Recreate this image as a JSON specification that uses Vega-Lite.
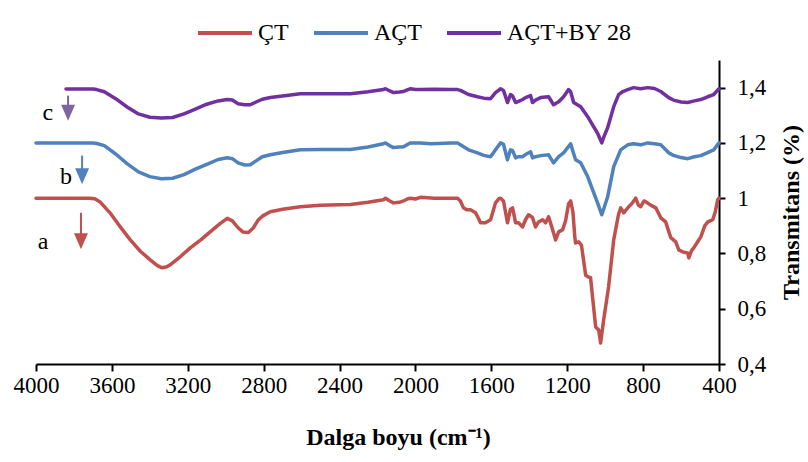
{
  "$schema": "https://vega.github.io/schema/vega-lite/v6.json",
  "width": 683,
  "height": 304,
  "autosize": {"type": "none"},
  "padding": {"left": 36, "top": 60, "right": 89, "bottom": 98},
  "background": "white",
  "config": {"view": {"stroke": null}, "font": "'Liberation Serif', 'Times New Roman', serif"},
  "datasets": {
    "spectra": [
      {"s":"ÇT","wn":4000,"t":1.0},{"s":"ÇT","wn":3900,"t":1.0},{"s":"ÇT","wn":3800,"t":1.0},{"s":"ÇT","wn":3720,"t":1.0},
      {"s":"ÇT","wn":3690,"t":0.998},{"s":"ÇT","wn":3660,"t":0.985},{"s":"ÇT","wn":3610,"t":0.947},{"s":"ÇT","wn":3560,"t":0.9},
      {"s":"ÇT","wn":3504,"t":0.85},{"s":"ÇT","wn":3450,"t":0.808},{"s":"ÇT","wn":3398,"t":0.777},{"s":"ÇT","wn":3360,"t":0.756},
      {"s":"ÇT","wn":3335,"t":0.748},{"s":"ÇT","wn":3310,"t":0.752},{"s":"ÇT","wn":3293,"t":0.759},{"s":"ÇT","wn":3240,"t":0.788},
      {"s":"ÇT","wn":3187,"t":0.82},{"s":"ÇT","wn":3130,"t":0.85},{"s":"ÇT","wn":3082,"t":0.878},{"s":"ÇT","wn":3030,"t":0.908},
      {"s":"ÇT","wn":2992,"t":0.927},{"s":"ÇT","wn":2965,"t":0.918},{"s":"ÇT","wn":2935,"t":0.893},{"s":"ÇT","wn":2910,"t":0.878},
      {"s":"ÇT","wn":2880,"t":0.876},{"s":"ÇT","wn":2855,"t":0.892},{"s":"ÇT","wn":2830,"t":0.92},{"s":"ÇT","wn":2807,"t":0.935},
      {"s":"ÇT","wn":2765,"t":0.951},{"s":"ÇT","wn":2700,"t":0.96},{"s":"ÇT","wn":2607,"t":0.969},{"s":"ÇT","wn":2500,"t":0.974},
      {"s":"ÇT","wn":2400,"t":0.976},{"s":"ÇT","wn":2343,"t":0.977},{"s":"ÇT","wn":2250,"t":0.985},{"s":"ÇT","wn":2169,"t":0.994},
      {"s":"ÇT","wn":2158,"t":1.0},{"s":"ÇT","wn":2135,"t":0.99},{"s":"ÇT","wn":2116,"t":0.983},{"s":"ÇT","wn":2085,"t":0.985},
      {"s":"ÇT","wn":2063,"t":0.99},{"s":"ÇT","wn":2040,"t":0.998},{"s":"ÇT","wn":2026,"t":1.0},{"s":"ÇT","wn":2000,"t":0.997},
      {"s":"ÇT","wn":1974,"t":1.003},{"s":"ÇT","wn":1900,"t":1.0},{"s":"ÇT","wn":1815,"t":1.0},{"s":"ÇT","wn":1778,"t":1.0},
      {"s":"ÇT","wn":1763,"t":0.99},{"s":"ÇT","wn":1747,"t":0.965},{"s":"ÇT","wn":1730,"t":0.958},{"s":"ÇT","wn":1710,"t":0.958},
      {"s":"ÇT","wn":1683,"t":0.947},{"s":"ÇT","wn":1670,"t":0.93},{"s":"ÇT","wn":1657,"t":0.911},{"s":"ÇT","wn":1631,"t":0.911},
      {"s":"ÇT","wn":1604,"t":0.922},{"s":"ÇT","wn":1578,"t":0.983},{"s":"ÇT","wn":1560,"t":0.998},{"s":"ÇT","wn":1551,"t":1.0},
      {"s":"ÇT","wn":1536,"t":0.99},{"s":"ÇT","wn":1515,"t":0.911},{"s":"ÇT","wn":1499,"t":0.96},{"s":"ÇT","wn":1488,"t":0.965},
      {"s":"ÇT","wn":1472,"t":0.911},{"s":"ÇT","wn":1457,"t":0.911},{"s":"ÇT","wn":1435,"t":0.896},{"s":"ÇT","wn":1420,"t":0.922},
      {"s":"ÇT","wn":1404,"t":0.94},{"s":"ÇT","wn":1383,"t":0.93},{"s":"ÇT","wn":1367,"t":0.896},{"s":"ÇT","wn":1351,"t":0.914},
      {"s":"ÇT","wn":1330,"t":0.922},{"s":"ÇT","wn":1314,"t":0.911},{"s":"ÇT","wn":1298,"t":0.933},{"s":"ÇT","wn":1277,"t":0.886},
      {"s":"ÇT","wn":1261,"t":0.849},{"s":"ÇT","wn":1245,"t":0.878},{"s":"ÇT","wn":1224,"t":0.886},{"s":"ÇT","wn":1208,"t":0.92},
      {"s":"ÇT","wn":1193,"t":0.98},{"s":"ÇT","wn":1182,"t":0.99},{"s":"ÇT","wn":1170,"t":0.95},{"s":"ÇT","wn":1160,"t":0.86},
      {"s":"ÇT","wn":1156,"t":0.838},{"s":"ÇT","wn":1140,"t":0.842},{"s":"ÇT","wn":1125,"t":0.83},{"s":"ÇT","wn":1103,"t":0.722},
      {"s":"ÇT","wn":1090,"t":0.715},{"s":"ÇT","wn":1077,"t":0.712},{"s":"ÇT","wn":1050,"t":0.534},{"s":"ÇT","wn":1034,"t":0.523},
      {"s":"ÇT","wn":1024,"t":0.476},{"s":"ÇT","wn":1008,"t":0.559},{"s":"ÇT","wn":982,"t":0.679},{"s":"ÇT","wn":955,"t":0.849},
      {"s":"ÇT","wn":930,"t":0.94},{"s":"ÇT","wn":918,"t":0.965},{"s":"ÇT","wn":902,"t":0.947},{"s":"ÇT","wn":876,"t":0.969},
      {"s":"ÇT","wn":860,"t":0.98},{"s":"ÇT","wn":839,"t":1.0},{"s":"ÇT","wn":825,"t":0.975},{"s":"ÇT","wn":813,"t":0.969},
      {"s":"ÇT","wn":795,"t":0.99},{"s":"ÇT","wn":786,"t":0.987},{"s":"ÇT","wn":760,"t":0.975},{"s":"ÇT","wn":733,"t":0.965},
      {"s":"ÇT","wn":707,"t":0.929},{"s":"ÇT","wn":681,"t":0.914},{"s":"ÇT","wn":665,"t":0.88},{"s":"ÇT","wn":654,"t":0.857},
      {"s":"ÇT","wn":628,"t":0.842},{"s":"ÇT","wn":612,"t":0.813},{"s":"ÇT","wn":590,"t":0.805},{"s":"ÇT","wn":565,"t":0.802},
      {"s":"ÇT","wn":559,"t":0.784},{"s":"ÇT","wn":545,"t":0.81},{"s":"ÇT","wn":533,"t":0.82},{"s":"ÇT","wn":510,"t":0.845},
      {"s":"ÇT","wn":496,"t":0.86},{"s":"ÇT","wn":475,"t":0.9},{"s":"ÇT","wn":459,"t":0.914},{"s":"ÇT","wn":433,"t":0.922},
      {"s":"ÇT","wn":420,"t":0.95},{"s":"ÇT","wn":407,"t":0.994},{"s":"ÇT","wn":400,"t":1.0},

      {"s":"AÇT","wn":4000,"t":1.2},{"s":"AÇT","wn":3900,"t":1.2},{"s":"AÇT","wn":3800,"t":1.2},{"s":"AÇT","wn":3700,"t":1.2},
      {"s":"AÇT","wn":3680,"t":1.198},{"s":"AÇT","wn":3640,"t":1.19},{"s":"AÇT","wn":3580,"t":1.16},{"s":"AÇT","wn":3520,"t":1.125},
      {"s":"AÇT","wn":3460,"t":1.095},{"s":"AÇT","wn":3400,"t":1.078},{"s":"AÇT","wn":3340,"t":1.07},{"s":"AÇT","wn":3280,"t":1.072},
      {"s":"AÇT","wn":3220,"t":1.085},{"s":"AÇT","wn":3160,"t":1.105},{"s":"AÇT","wn":3100,"t":1.122},{"s":"AÇT","wn":3040,"t":1.14},
      {"s":"AÇT","wn":2992,"t":1.146},{"s":"AÇT","wn":2965,"t":1.143},{"s":"AÇT","wn":2935,"t":1.128},{"s":"AÇT","wn":2900,"t":1.12},
      {"s":"AÇT","wn":2871,"t":1.121},{"s":"AÇT","wn":2840,"t":1.135},{"s":"AÇT","wn":2807,"t":1.15},{"s":"AÇT","wn":2765,"t":1.157},
      {"s":"AÇT","wn":2700,"t":1.165},{"s":"AÇT","wn":2607,"t":1.175},{"s":"AÇT","wn":2500,"t":1.176},{"s":"AÇT","wn":2343,"t":1.176},
      {"s":"AÇT","wn":2250,"t":1.185},{"s":"AÇT","wn":2169,"t":1.197},{"s":"AÇT","wn":2158,"t":1.2},{"s":"AÇT","wn":2135,"t":1.19},
      {"s":"AÇT","wn":2116,"t":1.183},{"s":"AÇT","wn":2085,"t":1.185},{"s":"AÇT","wn":2063,"t":1.186},{"s":"AÇT","wn":2040,"t":1.195},
      {"s":"AÇT","wn":2026,"t":1.2},{"s":"AÇT","wn":2000,"t":1.2},{"s":"AÇT","wn":1974,"t":1.2},{"s":"AÇT","wn":1920,"t":1.197},
      {"s":"AÇT","wn":1880,"t":1.198},{"s":"AÇT","wn":1815,"t":1.2},{"s":"AÇT","wn":1778,"t":1.2},{"s":"AÇT","wn":1763,"t":1.193},
      {"s":"AÇT","wn":1720,"t":1.175},{"s":"AÇT","wn":1673,"t":1.164},{"s":"AÇT","wn":1640,"t":1.155},{"s":"AÇT","wn":1604,"t":1.15},
      {"s":"AÇT","wn":1578,"t":1.175},{"s":"AÇT","wn":1551,"t":1.2},{"s":"AÇT","wn":1536,"t":1.195},{"s":"AÇT","wn":1515,"t":1.139},
      {"s":"AÇT","wn":1499,"t":1.175},{"s":"AÇT","wn":1488,"t":1.172},{"s":"AÇT","wn":1472,"t":1.146},{"s":"AÇT","wn":1457,"t":1.15},
      {"s":"AÇT","wn":1435,"t":1.15},{"s":"AÇT","wn":1420,"t":1.158},{"s":"AÇT","wn":1393,"t":1.168},{"s":"AÇT","wn":1383,"t":1.146},
      {"s":"AÇT","wn":1367,"t":1.15},{"s":"AÇT","wn":1340,"t":1.154},{"s":"AÇT","wn":1298,"t":1.157},{"s":"AÇT","wn":1272,"t":1.128},
      {"s":"AÇT","wn":1245,"t":1.15},{"s":"AÇT","wn":1219,"t":1.164},{"s":"AÇT","wn":1182,"t":1.197},{"s":"AÇT","wn":1170,"t":1.17},
      {"s":"AÇT","wn":1156,"t":1.139},{"s":"AÇT","wn":1129,"t":1.128},{"s":"AÇT","wn":1092,"t":1.078},{"s":"AÇT","wn":1066,"t":1.03},
      {"s":"AÇT","wn":1040,"t":0.983},{"s":"AÇT","wn":1018,"t":0.94},{"s":"AÇT","wn":1008,"t":0.96},{"s":"AÇT","wn":987,"t":1.005},
      {"s":"AÇT","wn":955,"t":1.114},{"s":"AÇT","wn":918,"t":1.175},{"s":"AÇT","wn":902,"t":1.183},{"s":"AÇT","wn":881,"t":1.193},
      {"s":"AÇT","wn":850,"t":1.197},{"s":"AÇT","wn":813,"t":1.193},{"s":"AÇT","wn":776,"t":1.2},{"s":"AÇT","wn":740,"t":1.197},
      {"s":"AÇT","wn":707,"t":1.193},{"s":"AÇT","wn":665,"t":1.164},{"s":"AÇT","wn":640,"t":1.155},{"s":"AÇT","wn":600,"t":1.147},
      {"s":"AÇT","wn":565,"t":1.143},{"s":"AÇT","wn":530,"t":1.15},{"s":"AÇT","wn":496,"t":1.154},{"s":"AÇT","wn":460,"t":1.165},
      {"s":"AÇT","wn":428,"t":1.175},{"s":"AÇT","wn":400,"t":1.2},

      {"s":"AÇT+BY 28","wn":3842,"t":1.395},{"s":"AÇT+BY 28","wn":3800,"t":1.395},{"s":"AÇT+BY 28","wn":3700,"t":1.395},
      {"s":"AÇT+BY 28","wn":3680,"t":1.393},{"s":"AÇT+BY 28","wn":3640,"t":1.385},{"s":"AÇT+BY 28","wn":3580,"t":1.36},
      {"s":"AÇT+BY 28","wn":3520,"t":1.33},{"s":"AÇT+BY 28","wn":3460,"t":1.305},{"s":"AÇT+BY 28","wn":3400,"t":1.293},
      {"s":"AÇT+BY 28","wn":3340,"t":1.29},{"s":"AÇT+BY 28","wn":3280,"t":1.292},{"s":"AÇT+BY 28","wn":3220,"t":1.305},
      {"s":"AÇT+BY 28","wn":3160,"t":1.322},{"s":"AÇT+BY 28","wn":3100,"t":1.34},{"s":"AÇT+BY 28","wn":3040,"t":1.352},
      {"s":"AÇT+BY 28","wn":2992,"t":1.357},{"s":"AÇT+BY 28","wn":2965,"t":1.355},{"s":"AÇT+BY 28","wn":2935,"t":1.342},
      {"s":"AÇT+BY 28","wn":2900,"t":1.338},{"s":"AÇT+BY 28","wn":2871,"t":1.338},{"s":"AÇT+BY 28","wn":2840,"t":1.348},
      {"s":"AÇT+BY 28","wn":2807,"t":1.358},{"s":"AÇT+BY 28","wn":2765,"t":1.364},{"s":"AÇT+BY 28","wn":2700,"t":1.37},
      {"s":"AÇT+BY 28","wn":2607,"t":1.378},{"s":"AÇT+BY 28","wn":2500,"t":1.378},{"s":"AÇT+BY 28","wn":2343,"t":1.378},
      {"s":"AÇT+BY 28","wn":2250,"t":1.385},{"s":"AÇT+BY 28","wn":2169,"t":1.393},{"s":"AÇT+BY 28","wn":2158,"t":1.396},
      {"s":"AÇT+BY 28","wn":2135,"t":1.388},{"s":"AÇT+BY 28","wn":2116,"t":1.382},{"s":"AÇT+BY 28","wn":2085,"t":1.384},
      {"s":"AÇT+BY 28","wn":2063,"t":1.386},{"s":"AÇT+BY 28","wn":2040,"t":1.393},{"s":"AÇT+BY 28","wn":2026,"t":1.396},
      {"s":"AÇT+BY 28","wn":2000,"t":1.393},{"s":"AÇT+BY 28","wn":1974,"t":1.393},{"s":"AÇT+BY 28","wn":1900,"t":1.394},
      {"s":"AÇT+BY 28","wn":1815,"t":1.393},{"s":"AÇT+BY 28","wn":1778,"t":1.393},{"s":"AÇT+BY 28","wn":1763,"t":1.39},
      {"s":"AÇT+BY 28","wn":1720,"t":1.375},{"s":"AÇT+BY 28","wn":1673,"t":1.367},{"s":"AÇT+BY 28","wn":1640,"t":1.362},
      {"s":"AÇT+BY 28","wn":1604,"t":1.36},{"s":"AÇT+BY 28","wn":1578,"t":1.382},{"s":"AÇT+BY 28","wn":1551,"t":1.396},
      {"s":"AÇT+BY 28","wn":1536,"t":1.39},{"s":"AÇT+BY 28","wn":1515,"t":1.346},{"s":"AÇT+BY 28","wn":1499,"t":1.375},
      {"s":"AÇT+BY 28","wn":1488,"t":1.37},{"s":"AÇT+BY 28","wn":1472,"t":1.346},{"s":"AÇT+BY 28","wn":1457,"t":1.35},
      {"s":"AÇT+BY 28","wn":1435,"t":1.357},{"s":"AÇT+BY 28","wn":1420,"t":1.364},{"s":"AÇT+BY 28","wn":1393,"t":1.371},
      {"s":"AÇT+BY 28","wn":1383,"t":1.346},{"s":"AÇT+BY 28","wn":1367,"t":1.355},{"s":"AÇT+BY 28","wn":1340,"t":1.364},
      {"s":"AÇT+BY 28","wn":1298,"t":1.367},{"s":"AÇT+BY 28","wn":1272,"t":1.338},{"s":"AÇT+BY 28","wn":1245,"t":1.349},
      {"s":"AÇT+BY 28","wn":1219,"t":1.367},{"s":"AÇT+BY 28","wn":1193,"t":1.393},{"s":"AÇT+BY 28","wn":1182,"t":1.385},
      {"s":"AÇT+BY 28","wn":1166,"t":1.346},{"s":"AÇT+BY 28","wn":1129,"t":1.331},{"s":"AÇT+BY 28","wn":1092,"t":1.295},
      {"s":"AÇT+BY 28","wn":1061,"t":1.259},{"s":"AÇT+BY 28","wn":1040,"t":1.235},{"s":"AÇT+BY 28","wn":1018,"t":1.2},
      {"s":"AÇT+BY 28","wn":1008,"t":1.22},{"s":"AÇT+BY 28","wn":987,"t":1.255},{"s":"AÇT+BY 28","wn":955,"t":1.331},
      {"s":"AÇT+BY 28","wn":929,"t":1.375},{"s":"AÇT+BY 28","wn":907,"t":1.386},{"s":"AÇT+BY 28","wn":881,"t":1.393},
      {"s":"AÇT+BY 28","wn":850,"t":1.4},{"s":"AÇT+BY 28","wn":813,"t":1.396},{"s":"AÇT+BY 28","wn":776,"t":1.4},
      {"s":"AÇT+BY 28","wn":740,"t":1.397},{"s":"AÇT+BY 28","wn":707,"t":1.386},{"s":"AÇT+BY 28","wn":665,"t":1.364},
      {"s":"AÇT+BY 28","wn":640,"t":1.355},{"s":"AÇT+BY 28","wn":600,"t":1.348},{"s":"AÇT+BY 28","wn":565,"t":1.346},
      {"s":"AÇT+BY 28","wn":530,"t":1.352},{"s":"AÇT+BY 28","wn":496,"t":1.357},{"s":"AÇT+BY 28","wn":460,"t":1.367},
      {"s":"AÇT+BY 28","wn":428,"t":1.375},{"s":"AÇT+BY 28","wn":400,"t":1.396}
    ],
    "notes": [
      {"tone":"a","ax":3763,"top":0.947,"head":0.844,"tx":3963,"ty":0.842},
      {"tone":"b","ax":3757,"top":1.154,"head":1.079,"tx":3842,"ty":1.078},
      {"tone":"c","ax":3831,"top":1.371,"head":1.309,"tx":3937,"ty":1.309}
    ]
  },
  "layer": [
    {
      "data": {"name": "spectra"},
      "mark": {"type": "line", "strokeWidth": 3.5, "strokeJoin": "round", "strokeCap": "round"},
      "encoding": {
        "x": {
          "field": "wn", "type": "quantitative",
          "scale": {"domain": [400, 4000], "reverse": true, "nice": false, "zero": false},
          "axis": {
            "values": [4000, 3600, 3200, 2800, 2400, 2000, 1600, 1200, 800, 400],
            "format": "d", "grid": false, "labelOverlap": false, "labelFlush": false,
            "title": "Dalga boyu (cm⁻¹)", "titleFont": "'Liberation Serif', 'Times New Roman', serif", "titleFontSize": 24,
            "titleFontWeight": "bold", "titleColor": "black", "titlePadding": 28, "titleX": 362,
            "labelFont": "'Liberation Serif', 'Times New Roman', serif", "labelFontSize": 23, "labelColor": "black", "labelPadding": 3,
            "domainColor": "black", "domainWidth": 2, "tickColor": "black", "tickWidth": 2, "tickSize": 7
          }
        },
        "y": {
          "field": "t", "type": "quantitative",
          "scale": {"domain": [0.4, 1.5], "nice": false, "zero": false},
          "axis": {
            "orient": "right",
            "values": [0.4, 0.6, 0.8, 1, 1.2, 1.4],
            "format": ".1~f", "labelExpr": "replace(datum.label, '.', ',')",
            "grid": false, "labelOverlap": false, "labelFlush": false,
            "title": "Transmitans (%)", "titleFont": "'Liberation Serif', 'Times New Roman', serif", "titleFontSize": 24,
            "titleFontWeight": "bold", "titleColor": "black", "titleAngle": 270, "titleBaseline": "top", "titlePadding": 14,
            "labelFont": "'Liberation Serif', 'Times New Roman', serif", "labelFontSize": 23, "labelColor": "black", "labelPadding": 12,
            "domainColor": "black", "domainWidth": 2, "tickColor": "black", "tickWidth": 2, "tickSize": 6
          }
        },
        "color": {
          "field": "s", "type": "nominal",
          "scale": {"domain": ["ÇT", "AÇT", "AÇT+BY 28"], "range": ["#C0504D", "#4F81BD", "#7030A0"]},
          "legend": {
            "orient": "none", "legendX": 160, "legendY": -56, "direction": "horizontal", "title": null,
            "symbolType": "stroke", "symbolSize": 2916, "symbolStrokeWidth": 4,
            "labelFont": "'Liberation Serif', 'Times New Roman', serif", "labelFontSize": 24, "labelColor": "black",
            "labelOffset": 4, "columnPadding": 17
          }
        }
      }
    },
    {
      "data": {"name": "notes"},
      "mark": {"type": "rule", "strokeWidth": 2},
      "encoding": {
        "x": {"field": "ax", "type": "quantitative"},
        "y": {"field": "top", "type": "quantitative"},
        "y2": {"field": "head"},
        "color": {"field": "tone", "type": "nominal", "scale": {"domain": ["a", "b", "c"], "range": ["#C0504D", "#4F81BD", "#8064A2"]}, "legend": null}
      }
    },
    {
      "data": {"name": "notes"},
      "mark": {"type": "point", "shape": "M-0.875,-1L0.875,-1L0,1Z", "filled": true, "size": 256, "opacity": 1},
      "encoding": {
        "x": {"field": "ax", "type": "quantitative"},
        "y": {"field": "head", "type": "quantitative"},
        "color": {"field": "tone", "type": "nominal", "scale": {"domain": ["a", "b", "c"], "range": ["#C0504D", "#4F81BD", "#8064A2"]}, "legend": null}
      }
    },
    {
      "data": {"name": "notes"},
      "mark": {"type": "text", "font": "'Liberation Serif', 'Times New Roman', serif", "fontSize": 24, "color": "black", "align": "center", "baseline": "middle"},
      "encoding": {
        "x": {"field": "tx", "type": "quantitative"},
        "y": {"field": "ty", "type": "quantitative"},
        "text": {"field": "tone"}
      }
    }
  ],
  "resolve": {"scale": {"color": "independent"}}
}
